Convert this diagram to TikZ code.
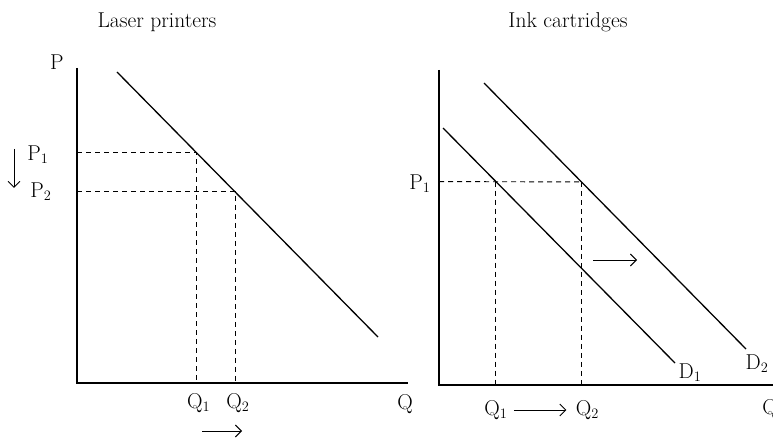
\documentclass[tikz,border=0pt]{standalone}
\usepackage{tikz}
\usetikzlibrary{arrows.meta,calc}

\begin{document}
\begin{tikzpicture}[x=1pt,y=-1pt,font=\fontsize{21.5}{25}\selectfont,
  axis/.style={line width=1.6pt},
  demand/.style={line width=1.3pt},
  guide/.style={line width=0.9pt,dash pattern=on 5pt off 4pt},
  movearrow/.style={-{Straight Barb[length=6pt,width=12pt]},line width=0.9pt}]
\useasboundingbox (0,0) rectangle (773,438);

% laser printers
\node (lasertitle) at (157,22) {Laser printers};
\coordinate (lorig) at (77,383);
\coordinate (ltop) at (77,68);
\coordinate (lright) at (408,383);
\draw[axis] (ltop) -- (lorig) -- (lright);
\node (lP) at (57,62) {P};
\node (lQ) at (405,404) {Q};
\coordinate (ds) at (117,72);
\coordinate (de) at (378,337);
\draw[demand] (ds) -- (de);
\coordinate (la) at ($(ds)!0.305!(de)$);
\coordinate (lb) at ($(ds)!0.452!(de)$);
\draw[guide] (ltop |- la) -- (la) -- (la |- lorig);
\draw[guide] (ltop |- lb) -- (lb) -- (lb |- lorig);
\node (lP1) at (38,155) {P$_1$};
\node (lP2) at (41,192) {P$_2$};
\node (lQ1) at ($(la |- lorig)+(2,20)$) {Q$_1$};
\node (lQ2) at ($(lb |- lorig)+(3,20)$) {Q$_2$};
\coordinate (pdown1) at (14,149);
\coordinate (pdown2) at (14,188);
\draw[movearrow] (pdown1) -- (pdown2);
\coordinate (qright1) at (202,431);
\coordinate (qright2) at (242,431);
\draw[movearrow] (qright1) -- (qright2);

% ink cartridges
\node (inktitle) at (568,22) {Ink cartridges};
\coordinate (rorig) at (439,385);
\coordinate (rtop) at (439,70);
\coordinate (rright) at (790,385);
\draw[axis] (rtop) -- (rorig) -- (rright);
\node (rQ) at (770,409) {Q};
\coordinate (d1s) at (443,128);
\coordinate (d1e) at (675,363);
\coordinate (d2s) at (484,83);
\coordinate (d2e) at (746,349);
\draw[demand] (d1s) -- (d1e);
\draw[demand] (d2s) -- (d2e);
\node (D1) at (690,373) {D$_1$};
\node (D2) at (757,364) {D$_2$};
\coordinate (ra) at ($(d1s)!0.228!(d1e)$);
\coordinate (rb) at ($(d2s)!0.372!(d2e)$);
\draw[guide] (rtop |- ra) -- (rb);
\draw[guide] (ra) -- (ra |- rorig);
\draw[guide] (rb) -- (rb |- rorig);
\node (rP1) at (420,184) {P$_1$};
\node (rQ1) at ($(ra |- rorig)+(0,25)$) {Q$_1$};
\node (rQ2) at ($(rb |- rorig)+(6,25)$) {Q$_2$};
\draw[movearrow,shorten <=3pt,shorten >=6pt] (rQ1.east) -- (rQ2.west);
\coordinate (dshift1) at (593,260);
\coordinate (dshift2) at (637,260);
\draw[movearrow] (dshift1) -- (dshift2);
\end{tikzpicture}
\end{document}
